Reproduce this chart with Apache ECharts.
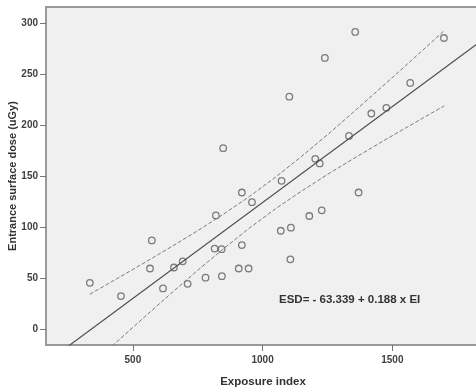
<!DOCTYPE html>
<html>
<head>
<meta charset="utf-8">
<script src="https://cdn.jsdelivr.net/npm/echarts@6/dist/echarts.min.js"></script>
<style>
html,body{margin:0;padding:0;background:#fff;}
#c{width:476px;height:390px;}
</style>
</head>
<body>
<div id="c"></div>
<script>
// Observed data: exposure index (EI) vs entrance surface dose (uGy)
var exposureIndex = [334, 454, 573, 566, 616, 658, 692, 711, 780, 820, 815, 842, 843, 908, 946, 920, 920, 959, 848,
  1070, 1109, 1107, 1180, 1228, 1370, 1073, 1203, 1220, 1333, 1419, 1477, 1569, 1699, 1357, 1240, 1103];
var surfaceDose = [46, 33, 87.5, 60, 40.5, 61, 67, 45, 51, 112, 79.5, 79, 52.5, 60, 60, 83, 134.5, 125, 178,
  97, 100, 69, 111.5, 117, 134.5, 146, 167.5, 163, 190, 212, 217.5, 242, 286, 292, 266.5, 228.5];

// Fit line (ESD = -63.339 + 0.188 x EI), endpoints at the axis limits
var fitX = [165, 1838];
var fitY = [-32.3, 282.2];

// 95% confidence band
var bandX = [334, 450, 550, 650, 750, 850, 950, 1050, 1150, 1250, 1350, 1450, 1550, 1650, 1700];
var bandUpper = [34.8, 51.7, 66.5, 81.6, 97.1, 113.4, 130.8, 149.6, 169.9, 191.2, 213.3, 235.8, 258.6, 281.6, 293.2];
var bandLower = [-35.9, -9.1, 13.7, 36.2, 58.3, 79.5, 99.8, 118.6, 135.9, 152.2, 167.7, 182.8, 197.6, 212.2, 219.4];

var xTicks = [500, 1000, 1500];
var yTicks = [0, 50, 100, 150, 200, 250, 300];
var equationText = 'ESD= - 63.339 + 0.188 x EI';
var xName = 'Exposure index';
var yName = 'Entrance surface dose (uGy)';

function zip(a, b) { return a.map(function (v, i) { return [v, b[i]]; }); }
function plain(v) { return String(v); }

var FONT = '"Liberation Sans", Arial, sans-serif';
var chart = echarts.init(document.getElementById('c'), null, {renderer: 'canvas'});
chart.setOption({
  animation: false,
  backgroundColor: '#ffffff',
  grid: {
    left: 46, top: 7, right: -4, bottom: 45,
    containLabel: false, outerBoundsMode: 'none',
    show: true, backgroundColor: '#f0f0f0', borderColor: '#9a9a9a', borderWidth: 2
  },
  xAxis: {
    type: 'value', min: 165, max: 1838,
    name: xName, nameLocation: 'middle', nameGap: 31, nameMoveOverlap: false,
    nameTextStyle: {fontFamily: FONT, fontWeight: 'bold', fontSize: 11.5, color: '#333'},
    axisLine: {show: false, onZero: false},
    axisTick: {show: true, inside: false, length: 6, customValues: xTicks, lineStyle: {color: '#777', width: 1}},
    axisLabel: {customValues: xTicks, formatter: plain, margin: 10, fontFamily: FONT, fontWeight: 'bold', fontSize: 10, color: '#404040'},
    splitLine: {show: false}
  },
  yAxis: {
    type: 'value', min: -15, max: 316.4,
    name: yName, nameLocation: 'middle', nameGap: 28, nameRotate: 90, nameMoveOverlap: false,
    nameTextStyle: {fontFamily: FONT, fontWeight: 'bold', fontSize: 11, color: '#333'},
    axisLine: {show: false, onZero: false},
    axisTick: {show: true, inside: false, length: 6, customValues: yTicks, lineStyle: {color: '#777', width: 1}},
    axisLabel: {customValues: yTicks, formatter: plain, margin: 8, fontFamily: FONT, fontWeight: 'bold', fontSize: 10, color: '#404040'},
    splitLine: {show: false}
  },
  series: [
    {
      type: 'line', data: zip(bandX, bandUpper), symbol: 'none', clip: true, silent: true,
      lineStyle: {color: '#7a7a7a', width: 1, type: [4, 2]}
    },
    {
      type: 'line', data: zip(bandX, bandLower), symbol: 'none', clip: true, silent: true,
      lineStyle: {color: '#7a7a7a', width: 1, type: [4, 2]}
    },
    {
      type: 'line', data: zip(fitX, fitY), symbol: 'none', clip: true, silent: true,
      lineStyle: {color: '#4f4f4f', width: 1.2}
    },
    {
      type: 'scatter', data: zip(exposureIndex, surfaceDose), symbol: 'circle', symbolSize: 6.5,
      itemStyle: {color: 'rgba(0,0,0,0)', borderColor: '#5e5e5e', borderWidth: 1.3}
    }
  ],
  graphic: [{
    type: 'text', left: 279, top: 294,
    style: {text: equationText, font: 'bold 11.5px ' + FONT, fill: '#333'}
  }]
});
</script>
</body>
</html>
